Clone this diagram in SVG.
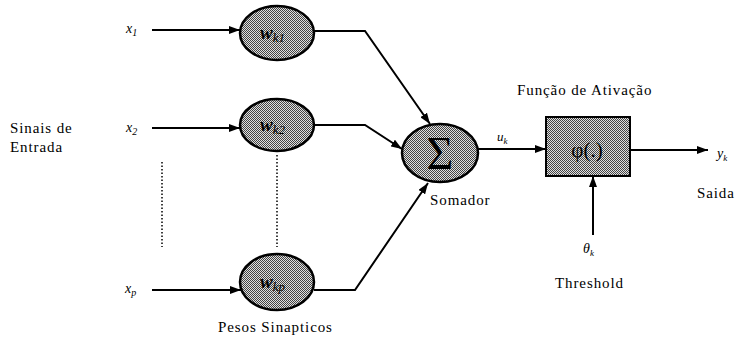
<svg xmlns="http://www.w3.org/2000/svg" width="735" height="345" viewBox="0 0 735 345">
<style>
.t{font-size:15px;letter-spacing:0.9px;fill:#000}
.v{font-style:italic;fill:#000}
.n{fill:url(#dots);stroke:#000;stroke-width:2.5}
.c{fill:none;stroke:#000;stroke-width:2;marker-end:url(#ah)}
.d{fill:none;stroke:#000;stroke-width:1.5;stroke-dasharray:1.5 2}
</style>
<defs>
<pattern id="dots" width="2" height="2" patternUnits="userSpaceOnUse">
<rect width="2" height="2" fill="#e0e0e0"/>
<rect width="1" height="1" fill="#444"/>
<rect x="1" y="1" width="1" height="1" fill="#444"/>
</pattern>
<marker id="ah" markerUnits="userSpaceOnUse" markerWidth="11" markerHeight="8" refX="11" refY="4" orient="auto">
<path d="M0,0 L11,4 L0,8 z" fill="#000"/>
</marker>
</defs>
<g font-family="Liberation Serif, Times New Roman, serif">
<g id="labels">
<text class="t" x="10" y="133">Sinais de</text>
<text class="t" x="10" y="152">Entrada</text>
<text class="t" x="218" y="332">Pesos Sinapticos</text>
<text class="t" x="430" y="205">Somador</text>
<text class="t" x="517" y="95">Função de Ativação</text>
<text class="t" x="555" y="288">Threshold</text>
<text class="t" x="697" y="198">Saida</text>
</g>
<g id="inputs">
<text class="v" x="126" y="33" font-size="14">x<tspan font-size="10" dy="3">1</tspan></text>
<text class="v" x="126" y="132" font-size="14">x<tspan font-size="10" dy="3">2</tspan></text>
<text class="v" x="125" y="293" font-size="14">x<tspan font-size="10" dy="3">p</tspan></text>
</g>
<g id="w1">
<ellipse class="n" cx="277" cy="33" rx="37" ry="27"/>
<text class="v" x="260" y="39" font-size="19" font-weight="bold">w<tspan font-size="13" dy="3" font-weight="normal">k1</tspan></text>
</g>
<g id="w2">
<ellipse class="n" cx="277" cy="125" rx="37" ry="26"/>
<text class="v" x="260" y="131" font-size="19" font-weight="bold">w<tspan font-size="13" dy="3" font-weight="normal">k2</tspan></text>
</g>
<g id="wp">
<ellipse class="n" cx="277" cy="282" rx="37" ry="28"/>
<text class="v" x="260" y="288" font-size="19" font-weight="bold">w<tspan font-size="13" dy="3" font-weight="normal">kp</tspan></text>
</g>
<g id="somador">
<ellipse class="n" cx="440" cy="153" rx="38" ry="29"/>
<text x="440" y="169" text-anchor="middle" font-size="46">Σ</text>
</g>
<g id="ativacao">
<rect x="546" y="117" width="84" height="59" fill="url(#dots)" stroke="#000" stroke-width="2"/>
<text x="587" y="157" text-anchor="middle" font-size="21">φ(.)</text>
</g>
<g id="others">
<text class="v" x="497" y="141" font-size="13">u<tspan font-size="9" dy="3">k</tspan></text>
<text class="v" x="717" y="158" font-size="14">y<tspan font-size="9" dy="3">k</tspan></text>
<text class="v" x="583" y="253" font-size="14">θ<tspan font-size="9" dy="3">k</tspan></text>
</g>
</g>
<g id="connectors">
<line class="c" x1="152" y1="30" x2="240" y2="30"/>
<line class="c" x1="152" y1="128" x2="240" y2="128"/>
<line class="c" x1="152" y1="290" x2="241" y2="290"/>
<polyline class="c" points="314,31 365,31 430,124"/>
<polyline class="c" points="314,125 365,125 402,149"/>
<polyline class="c" points="314,290 355,290 428,183"/>
<line class="c" x1="478" y1="149" x2="546" y2="149"/>
<line class="c" x1="630" y1="150" x2="708" y2="150"/>
<line class="c" x1="593" y1="235" x2="593" y2="176"/>
<line class="d" x1="162" y1="162" x2="162" y2="247"/>
<line class="d" x1="277" y1="155" x2="277" y2="247"/>
</g>
</svg>
